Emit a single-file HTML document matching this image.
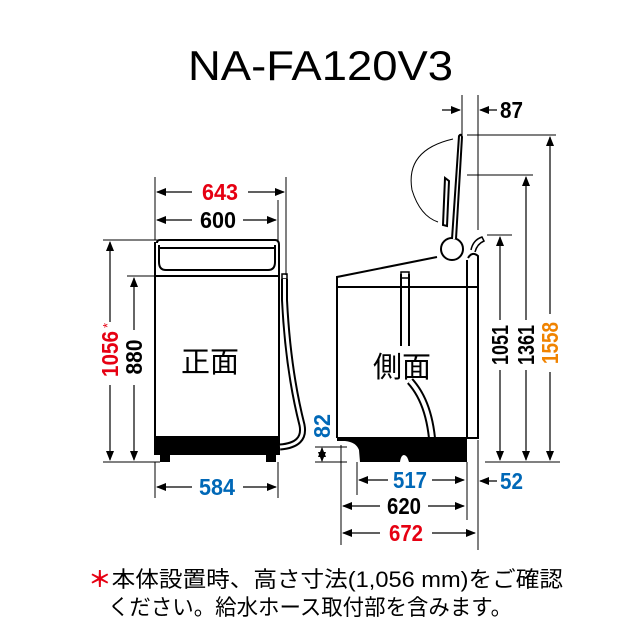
<!DOCTYPE html>
<html><head><meta charset="utf-8"><style>
html,body{margin:0;padding:0;background:#fff;width:640px;height:640px;overflow:hidden}
.d{font-family:"Liberation Sans",sans-serif;font-weight:bold;font-size:23px}
</style></head><body>
<svg width="640" height="640" viewBox="0 0 640 640" xmlns="http://www.w3.org/2000/svg">
<defs>
<marker id="a" markerWidth="10" markerHeight="8" refX="9" refY="4" orient="auto" markerUnits="userSpaceOnUse"><path d="M0,0 L10,4 L0,8 Z" fill="#000"/></marker>
</defs>
<text x="188" y="80" font-family="Liberation Sans,sans-serif" font-size="42" textLength="265" lengthAdjust="spacingAndGlyphs">NA-FA120V3</text>

<g stroke="#000" stroke-width="1" fill="none">
<line x1="155" y1="177" x2="155" y2="240"/>
<line x1="286" y1="177" x2="286" y2="275"/>
<line x1="278" y1="200" x2="278" y2="240"/>
<line x1="103" y1="240" x2="160" y2="240"/>
<line x1="127" y1="276" x2="155" y2="276"/>
<line x1="103" y1="462" x2="160" y2="462"/>
<line x1="155" y1="462" x2="155" y2="498"/>
<line x1="278" y1="462" x2="278" y2="498"/>
</g>
<g stroke="#000" stroke-width="1.2">
<line x1="192" y1="192" x2="157" y2="192" marker-end="url(#a)"/>
<line x1="248" y1="192" x2="284" y2="192" marker-end="url(#a)"/>
<line x1="192" y1="220" x2="157" y2="220" marker-end="url(#a)"/>
<line x1="243" y1="220" x2="276" y2="220" marker-end="url(#a)"/>
<line x1="192" y1="487" x2="157" y2="487" marker-end="url(#a)"/>
<line x1="243" y1="487" x2="276" y2="487" marker-end="url(#a)"/>
<line x1="110" y1="322" x2="110" y2="242" marker-end="url(#a)"/>
<line x1="110" y1="385" x2="110" y2="460" marker-end="url(#a)"/>
<line x1="134" y1="330" x2="134" y2="278" marker-end="url(#a)"/>
<line x1="134" y1="385" x2="134" y2="460" marker-end="url(#a)"/>
</g>
<text class="d" x="220" y="200" text-anchor="middle" fill="#e60012" textLength="36" lengthAdjust="spacingAndGlyphs">643</text>
<text class="d" x="218" y="228" text-anchor="middle" fill="#000" textLength="36" lengthAdjust="spacingAndGlyphs">600</text>
<text class="d" x="217" y="495" text-anchor="middle" fill="#0068b7" textLength="36" lengthAdjust="spacingAndGlyphs">584</text>
<text class="d" transform="translate(118,354) rotate(-90)" text-anchor="middle" fill="#e60012" textLength="46" lengthAdjust="spacingAndGlyphs">1056</text>
<text transform="translate(112,328) rotate(-90)" font-family="Liberation Sans,sans-serif" font-size="13" fill="#e60012">*</text>
<text class="d" transform="translate(142,357) rotate(-90)" text-anchor="middle" fill="#000" textLength="35" lengthAdjust="spacingAndGlyphs">880</text>

<g stroke="#000" stroke-width="2" fill="none">
<path d="M157,243 Q157,240 160,240 L275,240 Q279,240 279,245 L279,437"/>
<path d="M155,242 L155,437"/>
<path d="M159,245 L159,262 Q159,270 166,270 L268,270 Q275,270 275,262 L275,245"/>
<line x1="160" y1="248" x2="275" y2="248"/>
<line x1="155" y1="276" x2="279" y2="276"/>
<rect x="282" y="274" width="5" height="5" stroke-width="1.5"/>
</g>
<path d="M154,436 L280,436 L280,455 L276,455 L276,462 L266,462 L266,455 L170,455 L170,462 L160,462 L160,455 L154,455 Z" fill="#000"/>
<path d="M284.5,279 L284.5,300 Q288,370 302,425 Q306,445 280,447" fill="none" stroke="#000" stroke-width="7"/>
<path d="M284.5,279 L284.5,300 Q288,370 302,425 Q306,445 280,447" fill="none" stroke="#fff" stroke-width="3"/>
<text x="181" y="372" font-family="Liberation Sans,'Noto Sans CJK JP',sans-serif" font-size="29">正面</text>

<g stroke="#000" stroke-width="2" fill="none">
<path d="M337,438 L337,277 L437,257"/>
<line x1="337" y1="287" x2="478" y2="287"/>
<path d="M467,438 L467,260"/>
<path d="M468,258 Q472,251 478,256 L478,438 L467,438"/>
<circle cx="452" cy="249" r="11" fill="#fff"/>
<path d="M456,239 L462,137 Q461,133 459,136 L452,239" fill="#fff"/>
<path d="M445,178 L443,225 L447,226 L449,181 Z" fill="#fff"/>
<path d="M471,250 Q473,240 482,237 L484,241 Q477,244 475,252" stroke-width="1.5" fill="#fff"/>
<line x1="401" y1="274" x2="401" y2="346" />
<line x1="409" y1="274" x2="409" y2="346" />
<rect x="401" y="272" width="8" height="6" stroke-width="1.5"/>
<path d="M410,381 Q432,405 433,455" stroke-width="8"/>
</g>
<path d="M410,381 Q432,405 433,455" fill="none" stroke="#fff" stroke-width="4"/>
<path d="M453,139 Q405,150 412,190 Q420,216 438,222" fill="none" stroke="#000" stroke-width="1"/>
<path d="M337,437 L467,437 L467,462 L409,462 Q407,455 404,455 Q401,455 400,462 L360,462 L359,450 Q356,442 345,441 L337,441 Z" fill="#000"/>
<text x="373" y="377" font-family="Liberation Sans,'Noto Sans CJK JP',sans-serif" font-size="29">側面</text>

<g stroke="#000" stroke-width="1">
<line x1="462" y1="95" x2="462" y2="135"/>
<line x1="478" y1="95" x2="478" y2="230"/>
<line x1="467" y1="135" x2="556" y2="135"/>
<line x1="467" y1="175" x2="533" y2="175"/>
<line x1="487" y1="235" x2="512" y2="235"/>
<line x1="485" y1="462" x2="560" y2="462"/>
<line x1="341" y1="445" x2="341" y2="545"/>
<line x1="357" y1="462" x2="357" y2="495"/>
<line x1="467" y1="462" x2="467" y2="520"/>
<line x1="478" y1="440" x2="478" y2="550"/>
<line x1="315" y1="447" x2="347" y2="447"/>
<line x1="315" y1="462" x2="347" y2="462"/>
</g>
<g stroke="#000" stroke-width="1.2">
<line x1="442" y1="110" x2="460" y2="110" marker-end="url(#a)"/>
<line x1="497" y1="110" x2="480" y2="110" marker-end="url(#a)"/>
<line x1="500" y1="320" x2="500" y2="237" marker-end="url(#a)"/>
<line x1="500" y1="370" x2="500" y2="460" marker-end="url(#a)"/>
<line x1="526" y1="320" x2="526" y2="177" marker-end="url(#a)"/>
<line x1="526" y1="370" x2="526" y2="460" marker-end="url(#a)"/>
<line x1="550" y1="314" x2="550" y2="137" marker-end="url(#a)"/>
<line x1="550" y1="372" x2="550" y2="460" marker-end="url(#a)"/>
<line x1="388" y1="480" x2="359" y2="480" marker-end="url(#a)"/>
<line x1="432" y1="480" x2="464" y2="480" marker-end="url(#a)"/>
<line x1="380" y1="506" x2="343" y2="506" marker-end="url(#a)"/>
<line x1="428" y1="506" x2="464" y2="506" marker-end="url(#a)"/>
<line x1="380" y1="533" x2="343" y2="533" marker-end="url(#a)"/>
<line x1="432" y1="533" x2="475" y2="533" marker-end="url(#a)"/>
<line x1="497" y1="481" x2="480" y2="481" marker-end="url(#a)"/>
<line x1="322" y1="454" x2="322" y2="448" marker-end="url(#a)"/>
<line x1="322" y1="455" x2="322" y2="461" marker-end="url(#a)"/>
</g>
<text class="d" x="500" y="118" fill="#000" textLength="23" lengthAdjust="spacingAndGlyphs">87</text>
<text class="d" transform="translate(508,345) rotate(-90)" text-anchor="middle" fill="#000" textLength="40" lengthAdjust="spacingAndGlyphs">1051</text>
<text class="d" transform="translate(534,345) rotate(-90)" text-anchor="middle" fill="#000" textLength="40" lengthAdjust="spacingAndGlyphs">1361</text>
<text class="d" transform="translate(558,343) rotate(-90)" text-anchor="middle" fill="#f08300" textLength="42" lengthAdjust="spacingAndGlyphs">1558</text>
<text class="d" transform="translate(330,426) rotate(-90)" text-anchor="middle" fill="#0068b7" textLength="24" lengthAdjust="spacingAndGlyphs">82</text>
<text class="d" x="410" y="488" text-anchor="middle" fill="#0068b7" textLength="34" lengthAdjust="spacingAndGlyphs">517</text>
<text class="d" x="404" y="514" text-anchor="middle" fill="#000" textLength="34" lengthAdjust="spacingAndGlyphs">620</text>
<text class="d" x="406" y="541" text-anchor="middle" fill="#e60012" textLength="34" lengthAdjust="spacingAndGlyphs">672</text>
<text class="d" x="500" y="489" fill="#0068b7" textLength="23" lengthAdjust="spacingAndGlyphs">52</text>

<text x="88" y="587" font-family="Liberation Sans,'Noto Sans CJK JP',sans-serif" font-size="22" textLength="475" lengthAdjust="spacingAndGlyphs"><tspan fill="#e60012" font-weight="bold">＊</tspan>本体設置時、高さ寸法(1,056 mm)をご確認</text>
<text x="108" y="615" font-family="Liberation Sans,'Noto Sans CJK JP',sans-serif" font-size="22" textLength="404" lengthAdjust="spacingAndGlyphs">ください。給水ホース取付部を含みます。</text>
</svg>
</body></html>
